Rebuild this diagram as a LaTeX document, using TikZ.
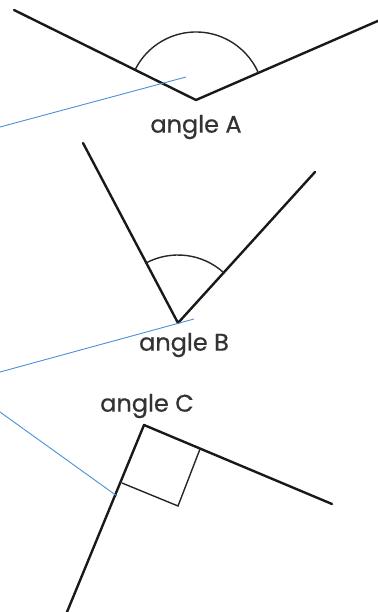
\documentclass[tikz,border=0pt]{standalone}
\usepackage{fontspec}
\setmainfont{Poppins}[FakeBold=0.6]
\definecolor{leader}{HTML}{4A8FD8}
\tikzset{
  ray/.style={line width=2.4pt, line cap=round, line join=round, black!90},
  marker/.style={line width=1.4pt, black!85},
  leaderline/.style={line width=0.9pt, leader},
  lbl/.style={font=\fontsize{24}{28}\selectfont, text=black!80, inner sep=0pt}
}
\begin{document}
\begin{tikzpicture}[x=1pt,y=-1pt]
\useasboundingbox (0,0) rectangle (377,612);
% angle A
\coordinate (A) at (196,100);
\coordinate (A1) at (14,10);
\coordinate (A2) at (380,20);
\draw[ray] (A1) -- (A) -- (A2);
\draw[marker] (A) ++(-153.7:68) arc[start angle=-153.7, end angle=-23.5, radius=68];
\node[lbl] (la) at (196,127) {angle A};
% angle B
\coordinate (B) at (178,323);
\coordinate (B1) at (83,143);
\coordinate (B2) at (315,172);
\draw[ray] (B1) -- (B) -- (B2);
\draw[marker] (B) ++(-117.8:68) arc[start angle=-117.8, end angle=-47.8, radius=68];
% angle C
\coordinate (C) at (144,425);
\coordinate (C1) at (67,612);
\coordinate (C2) at (332,504);
\draw[ray] (C1) -- (C) -- (C2);
\coordinate (CS1) at (122,483);
\coordinate (CS2) at (200,449);
\coordinate (CS3) at (178,506);
\draw[marker, line join=miter] (CS1) -- (CS3) -- (CS2);
\node[lbl] (lb) at (184,345) {angle B};
\node[lbl] (lc) at (147,406) {angle C};
% leaders
\coordinate (LA0) at (0,127);
\coordinate (LA1) at (186,77);
\coordinate (LB0) at (0,372);
\coordinate (LB1) at (194,319);
\coordinate (LC0) at (0,412);
\coordinate (LC1) at (117,496);
\draw[leaderline] (LA0) -- (LA1);
\draw[leaderline] (LB0) -- (LB1);
\draw[leaderline] (LC0) -- (LC1);
\end{tikzpicture}
\end{document}
